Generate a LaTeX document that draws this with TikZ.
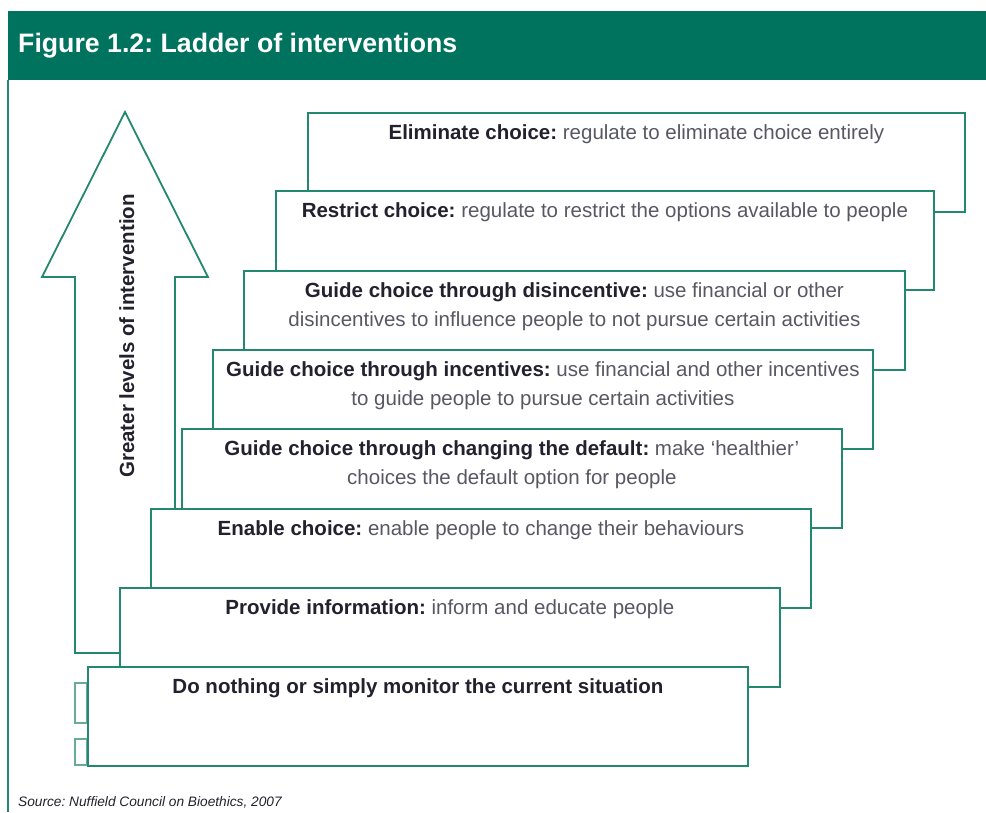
\documentclass[tikz,border=0pt]{standalone}
\usepackage{fontspec}
\setmainfont{Liberation Sans}
\usetikzlibrary{positioning}
\frenchspacing

\definecolor{bandgreen}{RGB}{0,115,95}
\definecolor{rulegreen}{RGB}{36,136,110}
\definecolor{inkdark}{RGB}{35,33,45}
\definecolor{inksoft}{RGB}{88,88,100}

\newcommand{\rungkey}[1]{{\bfseries\color{inkdark}#1}}

\tikzset{
  rung/.style={
    draw=rulegreen, line width=1.8pt, fill=white,
    anchor=north west, minimum width=660pt, minimum height=99pt,
    inner sep=0pt
  },
  rungtxt/.style={
    align=center, inner sep=0pt, text=inksoft,
    font=\fontsize{20.5}{29.5}\selectfont
  },
  ladder/.style={draw=rulegreen, line width=1.8pt, fill=white},
  stub/.style={draw=rulegreen!70, line width=1.5pt, fill=white}
}

\begin{document}
\begin{tikzpicture}[x=1pt, y=-1pt]
  \useasboundingbox (0,0) rectangle (986,812);

  % header band and frame
  \fill[bandgreen] (8,11) rectangle (986,80);
  \draw[rulegreen, line width=1.8pt] (8,80) -- (8,812);
  \node[anchor=base west, inner sep=0pt, text=white,
        font=\fontsize{26.7}{30}\selectfont\bfseries] (title) at (18,52)
        {Figure 1.2: Ladder of interventions};

  % big hollow arrow behind the steps
  \draw[ladder] (125,112) -- (208,277) -- (175,277) -- (175,653)
        -- (75,653) -- (75,277) -- (42,277) -- cycle;
  \node[rotate=90, anchor=base, inner sep=0pt, text=inkdark,
        font=\fontsize{20.5}{24}\selectfont\bfseries] (climb) at (134,336)
        {Greater levels of intervention};

  % bits peeking out under the bottom step
  \draw[stub] (75,683) rectangle (87,723);
  \draw[stub] (75,739) rectangle (87,765);

  % the rungs, top to bottom
  \node[rung, minimum width=657pt] (elim) at (307,112) {};
  \node[rungtxt, below=12pt of elim.north] (elimtxt)
        {\rungkey{Eliminate choice:} regulate to eliminate choice entirely};

  \node[rung, minimum width=658pt] (restr) at (275,190) {};
  \node[rungtxt, below=12pt of restr.north] (restrtxt)
        {\rungkey{Restrict choice:} regulate to restrict the options available to people};

  \node[rung, minimum width=661pt] (disinc) at (243,270) {};
  \node[rungtxt, below=12pt of disinc.north] (disinctxt)
        {\rungkey{Guide choice through disincentive:} use financial or other\\
         disincentives to influence people to not pursue certain activities};

  \node[rung] (incent) at (212,349) {};
  \node[rungtxt, below=12pt of incent.north] (incenttxt)
        {\rungkey{Guide choice through incentives:} use financial and other incentives\\
         to guide people to pursue certain activities};

  \node[rung] (dflt) at (181,428) {};
  \node[rungtxt, below=12pt of dflt.north] (dflttxt)
        {\rungkey{Guide choice through changing the default:} make ‘healthier’\\
         choices the default option for people};

  \node[rung] (enable) at (150,508) {};
  \node[rungtxt, below=12pt of enable.north] (enabletxt)
        {\rungkey{Enable choice:} enable people to change their behaviours};

  \node[rung] (inform) at (119,587) {};
  \node[rungtxt, below=12pt of inform.north] (informtxt)
        {\rungkey{Provide information:} inform and educate people};

  \node[rung] (nothing) at (87,666) {};
  \node[rungtxt, below=12pt of nothing.north] (nothingtxt)
        {\rungkey{Do nothing or simply monitor the current situation}};

  % source line
  \node[anchor=base west, inner sep=0pt, text=inkdark,
        font=\fontsize{13.7}{16}\selectfont\itshape] (src) at (18,806)
        {Source: Nuffield Council on Bioethics, 2007};
\end{tikzpicture}
\end{document}
